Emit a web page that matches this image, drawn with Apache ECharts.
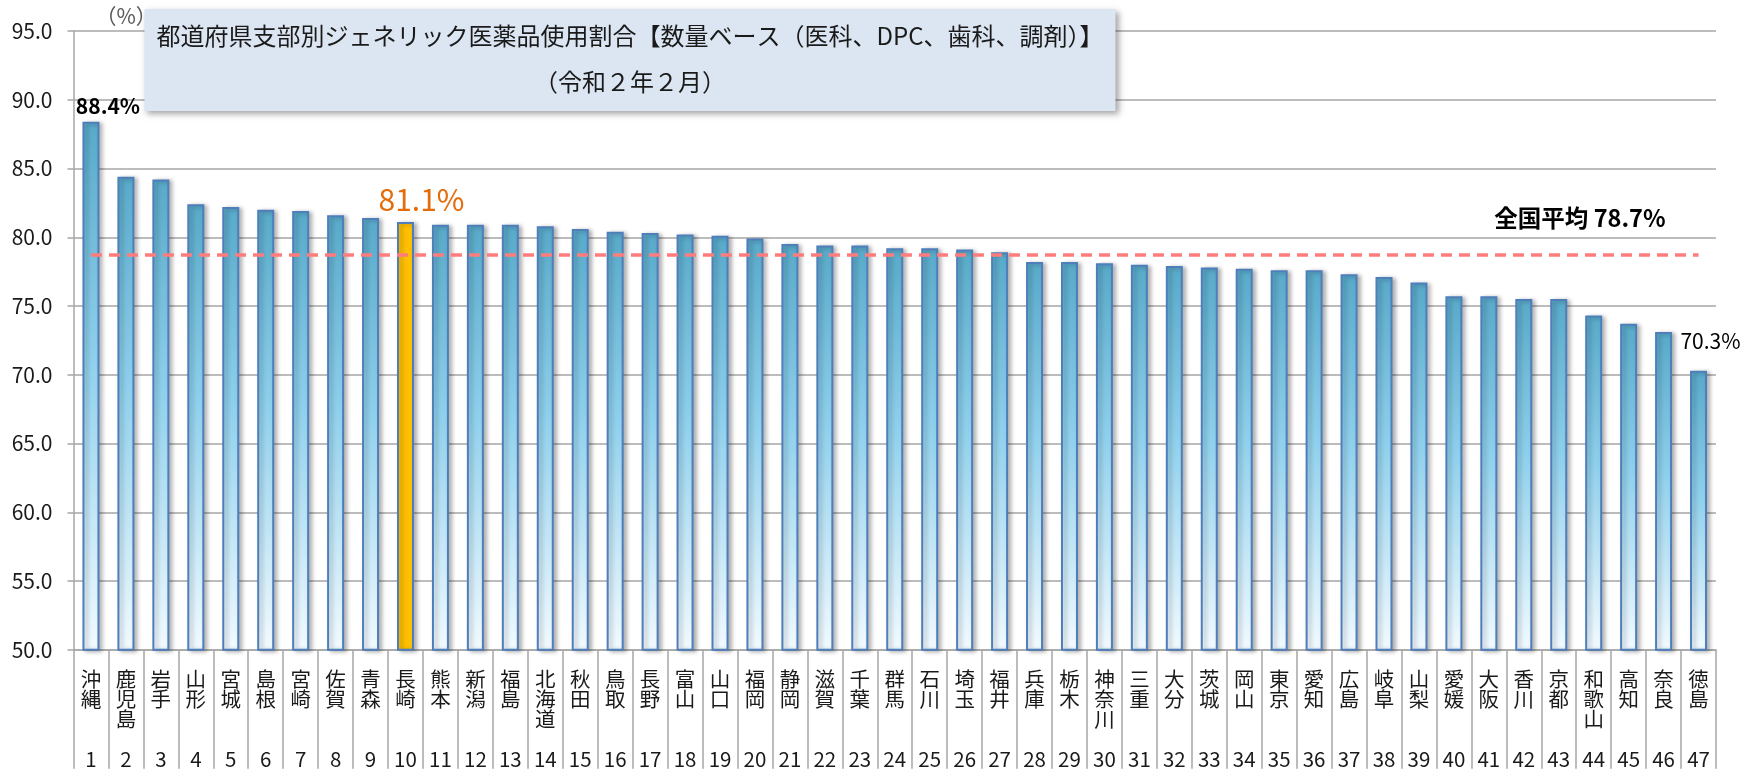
<!DOCTYPE html>
<html lang="ja">
<head>
<meta charset="UTF-8">
<title>都道府県支部別ジェネリック医薬品使用割合</title>
<script src="https://cdn.jsdelivr.net/npm/echarts@6/dist/echarts.min.js"></script>
<style>
  html, body { margin: 0; padding: 0; background: #fff; }
  #main { width: 1745px; height: 769px; }
</style>
</head>
<body>
<div id="main"></div>
<script>
// prefecture branches, sorted by usage rate (令和2年2月)
const prefs = ['沖縄', '鹿児島', '岩手', '山形', '宮城', '島根', '宮崎', '佐賀', '青森', '長崎',
  '熊本', '新潟', '福島', '北海道', '秋田', '鳥取', '長野', '富山', '山口', '福岡',
  '静岡', '滋賀', '千葉', '群馬', '石川', '埼玉', '福井', '兵庫', '栃木', '神奈川',
  '三重', '大分', '茨城', '岡山', '東京', '愛知', '広島', '岐阜', '山梨', '愛媛',
  '大阪', '香川', '京都', '和歌山', '高知', '奈良', '徳島'];
const ranks = [1, 2, 3, 4, 5, 6, 7, 8, 9, 10, 11, 12, 13, 14, 15, 16, 17, 18, 19, 20,
  21, 22, 23, 24, 25, 26, 27, 28, 29, 30, 31, 32, 33, 34, 35, 36, 37, 38, 39, 40,
  41, 42, 43, 44, 45, 46, 47];
const rates = [88.4, 84.4, 84.2, 82.4, 82.2, 82.0, 81.9, 81.6, 81.4, 81.1,
  80.9, 80.9, 80.9, 80.8, 80.6, 80.4, 80.3, 80.2, 80.1, 79.9,
  79.5, 79.4, 79.4, 79.2, 79.2, 79.1, 78.9, 78.2, 78.2, 78.1,
  78.0, 77.9, 77.8, 77.7, 77.6, 77.6, 77.3, 77.1, 76.7, 75.7,
  75.7, 75.5, 75.5, 74.3, 73.7, 73.1, 70.3];
const nationalAvg = 78.7;
const highlight = '長崎';
const yTicks = [50, 95, 5]; // min, max, step

const FONT = "'Noto Sans CJK JP', 'Noto Sans', sans-serif";

const barFill = new echarts.graphic.LinearGradient(0, 0, 0, 1, [
  { offset: 0, color: '#58a9c9' },
  { offset: 0.45, color: '#8fd0ec' },
  { offset: 1, color: '#f2faff' }
]);

const barData = rates.map(function (v, i) {
  let item = { value: v };
  if (prefs[i] === highlight) {
    item.itemStyle = { color: '#ffc000' };
    item.label = {
      show: true, formatter: v.toFixed(1) + '%', color: '#e46c0a',
      fontSize: 30, offset: [16, -3]
    };
  } else if (i === 0) {
    item.label = {
      show: true, formatter: v.toFixed(1) + '%', color: '#000',
      fontSize: 21, fontWeight: 'bold', offset: [17, 0]
    };
  } else if (i === rates.length - 1) {
    item.label = {
      show: true, formatter: v.toFixed(1) + '%', color: '#000',
      fontSize: 21, offset: [12, -14]
    };
  }
  return item;
});

const chart = echarts.init(document.getElementById('main'));
chart.setOption({
  animation: false,
  backgroundColor: '#fff',
  textStyle: { fontFamily: FONT },
  title: {
    text: '都道府県支部別ジェネリック医薬品使用割合【数量ベース（医科、DPC、歯科、調剤）】\n（令和２年２月）',
    left: 618,
    top: 9,
    textAlign: 'center',
    padding: [4, 12, 6, 12],
    backgroundColor: '#dce6f2',
    shadowColor: 'rgba(0,0,0,0.35)',
    shadowBlur: 6,
    shadowOffsetX: 3,
    shadowOffsetY: 3,
    z: 10,
    textStyle: {
      fontFamily: FONT, fontSize: 24, fontWeight: 'normal',
      color: '#1a1a1a', lineHeight: 46, align: 'center'
    }
  },
  grid: { left: 73.5, right: 29, top: 31, bottom: 119 },
  xAxis: {
    type: 'category',
    data: prefs,
    axisLine: { lineStyle: { color: '#a6a6a6', width: 1.5 } },
    axisTick: { show: true, interval: 0, length: 119, lineStyle: { color: '#a6a6a6', width: 1.5 } },
    axisLabel: {
      interval: 0,
      margin: 19,
      fontSize: 20.5,
      lineHeight: 20,
      color: '#1a1a1a',
      fontFamily: FONT,
      formatter: function (value, index) {
        let lines = value.split('');
        while (lines.length < 4) lines.push(' ');
        lines.push(String(ranks[index]));
        return lines.join('\n');
      }
    }
  },
  yAxis: {
    type: 'value',
    min: yTicks[0],
    max: yTicks[1],
    interval: yTicks[2],
    name: '（%）',
    nameLocation: 'end',
    nameGap: 4,
    nameTextStyle: { fontSize: 21, fontFamily: FONT, color: '#595959', align: 'left', padding: [0, 0, 0, 22] },
    axisLine: { show: true, lineStyle: { color: '#a6a6a6', width: 1.5 } },
    axisTick: { show: true, length: 6, lineStyle: { color: '#a6a6a6', width: 1.5 } },
    axisLabel: {
      fontSize: 21, color: '#1a1a1a', margin: 21,
      formatter: function (v) { return v.toFixed(1); }
    },
    splitLine: { lineStyle: { color: '#a6a6a6', width: 1.5 } }
  },
  series: [{
    type: 'bar',
    data: barData,
    barWidth: 17,
    itemStyle: {
      color: barFill,
      borderColor: '#4f7fbb',
      borderWidth: 2,
      shadowColor: 'rgba(0,0,0,0.28)',
      shadowBlur: 4,
      shadowOffsetX: 3,
      shadowOffsetY: 1
    },
    label: { position: 'top', fontFamily: FONT },
    markLine: {
      silent: true,
      symbol: 'none',
      lineStyle: { color: '#ff7c7c', type: [11, 7], width: 3.5 },
      label: {
        show: true,
        position: 'insideEndTop',
        formatter: '全国平均 ' + nationalAvg.toFixed(1) + '%',
        color: '#000',
        fontSize: 23.5,
        fontWeight: 'bold',
        fontFamily: FONT,
        distance: [33, 25]
      },
      data: [[
        { coord: [prefs[0], nationalAvg] },
        { coord: [prefs[prefs.length - 1], nationalAvg] }
      ]]
    }
  }]
});
</script>
</body>
</html>
